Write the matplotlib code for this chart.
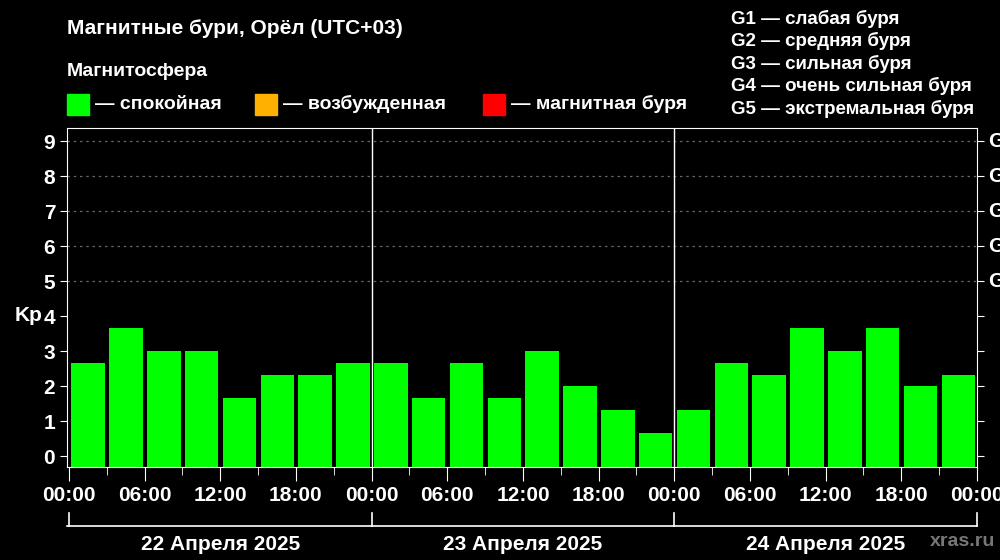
import matplotlib
matplotlib.use("Agg")
import matplotlib.pyplot as plt
import numpy as np

plt.rcParams['font.family'] = ['Liberation Sans', 'DejaVu Sans']
plt.rcParams['font.weight'] = 'bold'
plt.rcParams['axes.labelweight'] = 'bold'

kp = [2.67, 3.67, 3.0, 3.0, 1.67, 2.33, 2.33, 2.67,
      2.67, 1.67, 2.67, 1.67, 3.0, 2.0, 1.33, 0.67,
      1.33, 2.67, 2.33, 3.67, 3.0, 3.67, 2.0, 2.33]
hour_labels = ["00:00", "06:00", "12:00", "18:00"] * 3 + ["00:00"]
days = ["22 Апреля 2025", "23 Апреля 2025", "24 Апреля 2025"]
g_levels = ["G1", "G2", "G3", "G4", "G5"]
legend_g = ["G1 — слабая буря", "G2 — средняя буря", "G3 — сильная буря",
            "G4 — очень сильная буря", "G5 — экстремальная буря"]

fig = plt.figure(figsize=(10, 5.6), dpi=100, facecolor='black')
ax = fig.add_axes([0.067, 0.166, 0.910, 0.605], facecolor='black')
x = np.arange(len(kp)) * 3
ax.bar(x + 0.2, [v + 0.31 for v in kp], width=2.65, bottom=-0.31, align='edge',
       color='#00ff00', edgecolor='black', linewidth=0)
ax.set_xlim(-0.15, 72)
ax.set_ylim(-0.31, 9.37)
for y in range(5, 10):
    ax.axhline(y, color='#666666', ls=(0, (2, 3)), lw=0.9)
for d in (24, 48):
    ax.axvline(d, color='white', lw=1)
for s in ax.spines.values():
    s.set_color('white')
ax.set_yticks(range(10))
ax.tick_params(axis='y', colors='white', labelsize=15, length=5, right=True)
ax.set_xticks(np.arange(0, 73, 6))
ax.set_xticklabels(hour_labels)
ax.set_xticks(np.arange(3, 72, 6), minor=True)
ax.tick_params(axis='x', which='major', colors='white', labelsize=15, length=10)
ax.tick_params(axis='x', which='minor', colors='white', length=6)
ax.set_ylabel("Kp", color='white', fontsize=15, fontweight='bold', rotation=0, labelpad=18)
ax.yaxis.set_label_coords(-0.042, 0.42)
for i, g in enumerate(g_levels):
    ax.text(1.012, (5 + i + 0.31) / 9.68, g, transform=ax.transAxes, color='white',
            fontsize=15, fontweight='bold', va='center', ha='left', clip_on=False)

# day bracket
yb = -0.175
ax.plot([0, 1], [yb, yb], transform=ax.transAxes, color='white', lw=1.2, clip_on=False)
for xd in (0, 24, 48, 72):
    ax.plot([xd / 72.15 + 0.15 / 72.15] * 2, [yb, yb + 0.04], transform=ax.transAxes,
            color='white', lw=1.2, clip_on=False)
for i, d in enumerate(days):
    ax.text((12 + 24 * i + 0.15) / 72.15, -0.23, d, transform=ax.transAxes, color='white',
            fontsize=15, fontweight='bold', ha='center', va='center')
fig.text(0.93, 0.025, "xras.ru", color='#777777', fontsize=14, fontweight='bold')

fig.text(0.067, 0.95, "Магнитные бури, Орёл (UTC+03)", color='white', fontsize=15,
         fontweight='bold', va='center')
fig.text(0.067, 0.873, "Магнитосфера", color='white', fontsize=14, fontweight='bold', va='center')
leg = [("#00ff00", "— спокойная", 0.067), ("#ffb000", "— возбужденная", 0.255),
       ("#ff0000", "— магнитная буря", 0.483)]
for c, t, xp in leg:
    fig.patches.append(plt.Rectangle((xp, 0.794), 0.022, 0.039, color=c,
                                     transform=fig.transFigure, figure=fig))
    fig.text(xp + 0.028, 0.814, t, color='white', fontsize=14, fontweight='bold', va='center')
for i, t in enumerate(legend_g):
    fig.text(0.731, 0.966 - i * 0.04, t, color='white', fontsize=13.5, fontweight='bold',
             va='center')

fig.savefig("out.png", facecolor='black')
